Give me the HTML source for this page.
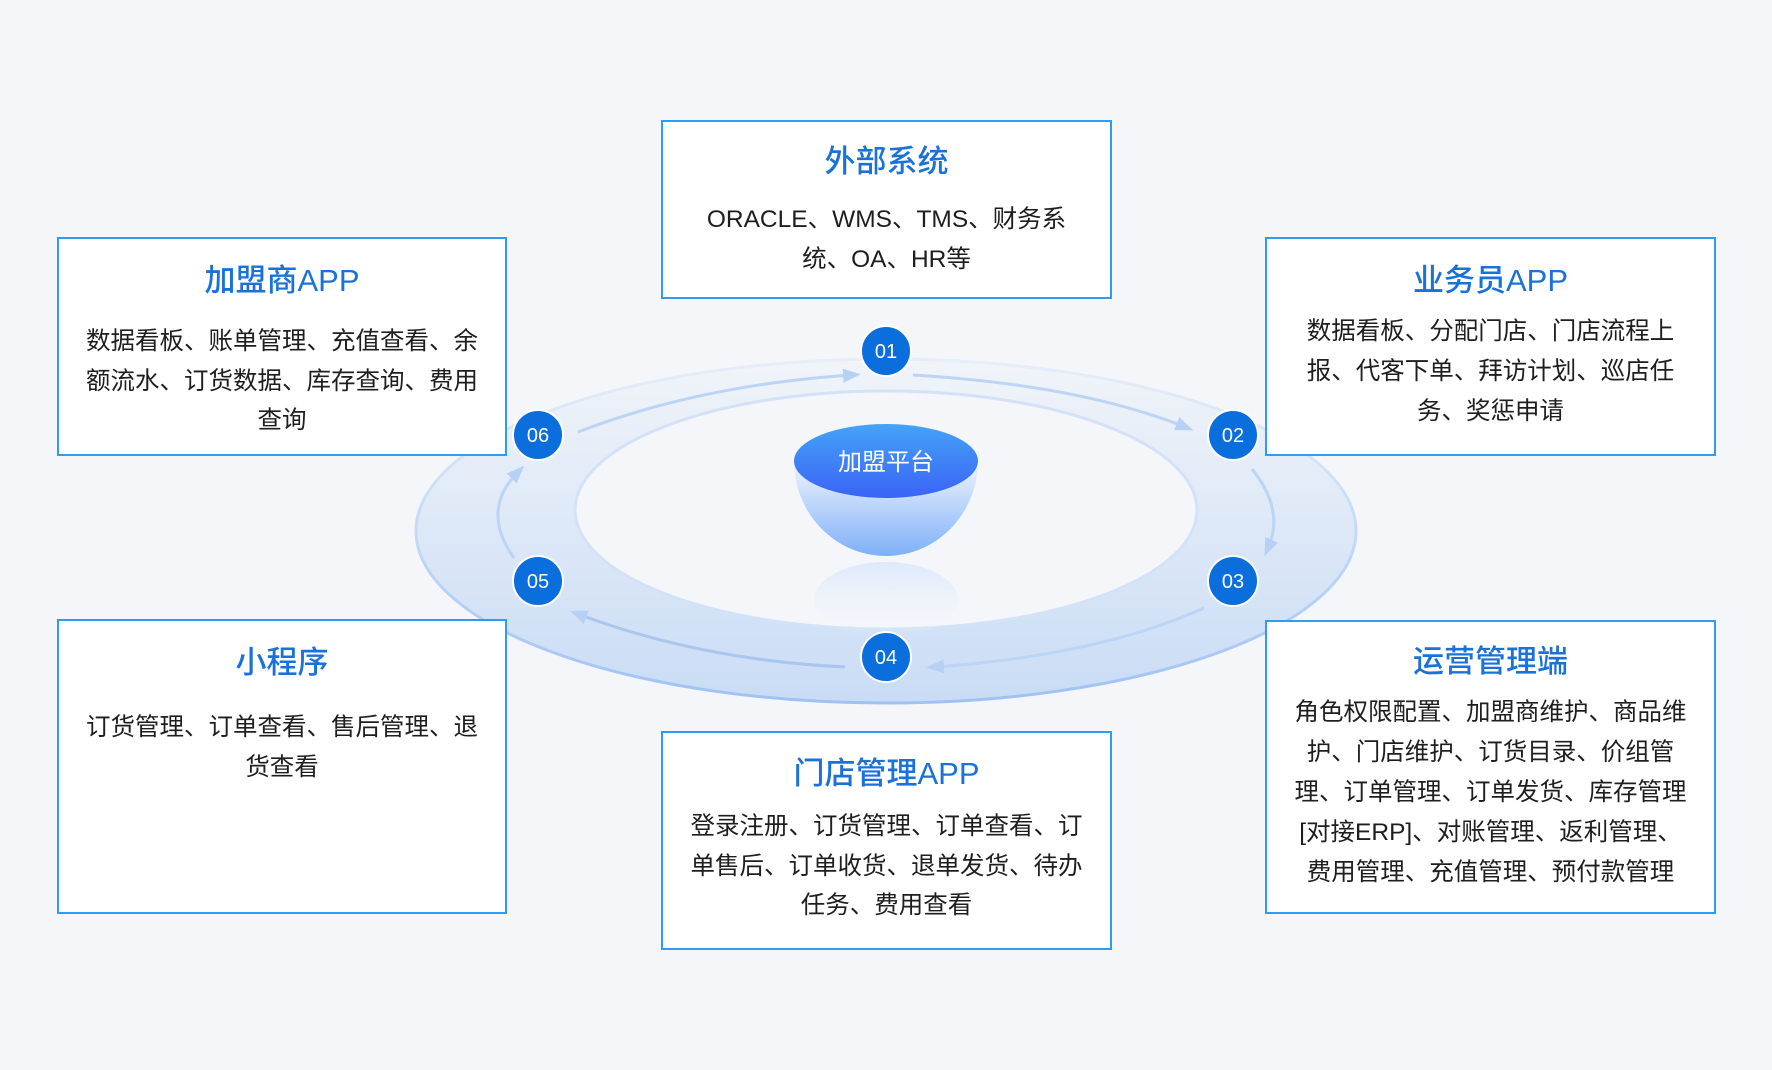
<!DOCTYPE html>
<html><head><meta charset="utf-8"><style>
*{margin:0;padding:0;box-sizing:border-box}
body{width:1772px;height:1070px;overflow:hidden;background:#f4f6fa;font-family:"Liberation Sans","Noto Sans CJK SC",sans-serif;position:relative}
.box{position:absolute;background:#fff;border:2px solid #2d9cf2}
.t{position:absolute;left:0;right:0;text-align:center;white-space:nowrap;line-height:1}
.h{font-size:31px;color:#1a72d9;font-weight:500}
.b{font-size:24.5px;color:#1e1e1e}
svg{position:absolute;left:0;top:0}
</style></head><body>
<svg width="1772" height="1070">
<defs>
<linearGradient id="ring" x1="0" y1="0" x2="0" y2="1"><stop offset="0" stop-color="#f1f4f9"/><stop offset="1" stop-color="#c9dcf5"/></linearGradient>
<linearGradient id="rs" x1="0" y1="0" x2="0" y2="1"><stop offset="0" stop-color="#e6eef9"/><stop offset="0.5" stop-color="#c5daf6"/><stop offset="1" stop-color="#9fc2f3"/></linearGradient>
<linearGradient id="top" x1="0" y1="0" x2="0" y2="1"><stop offset="0" stop-color="#45a3f8"/><stop offset="1" stop-color="#3a63f6"/></linearGradient>
<linearGradient id="bowl" x1="0" y1="0" x2="0" y2="1"><stop offset="0" stop-color="#f0f5fd"/><stop offset="1" stop-color="#7fb0f8"/></linearGradient>
<linearGradient id="refl" x1="0" y1="0" x2="0" y2="1"><stop offset="0" stop-color="#dde9fb"/><stop offset="1" stop-color="#f4f6fa" stop-opacity="0"/></linearGradient>
<marker id="arb" markerWidth="18" markerHeight="18" refX="9" refY="9" orient="auto" markerUnits="userSpaceOnUse"><path d="M0,2 L18,9 L0,16z" fill="#b7d1f5"/></marker>
</defs>
<ellipse cx="886" cy="531" rx="470" ry="172" fill="url(#ring)" stroke="url(#rs)" stroke-width="3"/>
<ellipse cx="886" cy="510" rx="311" ry="119" fill="#f4f6fa" stroke="#d3e2f8" stroke-width="3"/>
<ellipse cx="886" cy="600" rx="72" ry="38" fill="url(#refl)"/>
<path d="M794,461 A92,95 0 0 0 978,461 Z" fill="url(#bowl)"/>
<ellipse cx="886" cy="461" rx="92" ry="37" fill="url(#top)"/>
<text x="886" y="470" text-anchor="middle" font-size="24" fill="#fff" font-family="Liberation Sans,Noto Sans CJK SC,sans-serif">加盟平台</text>
<g fill="none" stroke="#bcd4f5" stroke-width="3" marker-end="url(#arb)">
<path d="M578,432 Q700,385 852,375"/>
<path d="M913,375 Q1080,385 1185,427"/>
<path d="M1252,469 Q1285,510 1268,548"/>
<path d="M1204,608 Q1100,655 935,667"/>
<path d="M845,667 Q700,660 578,614" stroke="#a9c6ee"/>
<path d="M514,558 Q480,510 518,472"/>
</g>
<g font-family="Liberation Sans,sans-serif" font-size="20" fill="#fff" text-anchor="middle">
<circle cx="886" cy="351" r="25" fill="#0a6edc" stroke="#fff" stroke-width="2"/><text x="886" y="358">01</text>
<circle cx="1233" cy="435" r="25" fill="#0a6edc" stroke="#fff" stroke-width="2"/><text x="1233" y="442">02</text>
<circle cx="1233" cy="581" r="25" fill="#0a6edc" stroke="#fff" stroke-width="2"/><text x="1233" y="588">03</text>
<circle cx="886" cy="657" r="25" fill="#0a6edc" stroke="#fff" stroke-width="2"/><text x="886" y="664">04</text>
<circle cx="538" cy="581" r="25" fill="#0a6edc" stroke="#fff" stroke-width="2"/><text x="538" y="588">05</text>
<circle cx="538" cy="435" r="25" fill="#0a6edc" stroke="#fff" stroke-width="2"/><text x="538" y="442">06</text>
</g>
</svg>

<div class="box" style="left:661px;top:120px;width:451px;height:179px">
<div class="t h" style="top:24px">外部系统</div>
<div class="t b" style="top:86px">ORACLE、WMS、TMS、财务系</div>
<div class="t b" style="top:126px">统、OA、HR等</div>
</div>

<div class="box" style="left:57px;top:237px;width:450px;height:219px">
<div class="t h" style="top:26px">加盟商APP</div>
<div class="t b" style="top:91px">数据看板、账单管理、充值查看、余</div>
<div class="t b" style="top:131px">额流水、订货数据、库存查询、费用</div>
<div class="t b" style="top:170px">查询</div>
</div>

<div class="box" style="left:1265px;top:237px;width:451px;height:219px">
<div class="t h" style="top:26px">业务员APP</div>
<div class="t b" style="top:81px">数据看板、分配门店、门店流程上</div>
<div class="t b" style="top:121px">报、代客下单、拜访计划、巡店任</div>
<div class="t b" style="top:161px">务、奖惩申请</div>
</div>

<div class="box" style="left:57px;top:619px;width:450px;height:295px">
<div class="t h" style="top:26px">小程序</div>
<div class="t b" style="top:95px">订货管理、订单查看、售后管理、退</div>
<div class="t b" style="top:135px">货查看</div>
</div>

<div class="box" style="left:1265px;top:620px;width:451px;height:294px">
<div class="t h" style="top:24px">运营管理端</div>
<div class="t b" style="top:79px">角色权限配置、加盟商维护、商品维</div>
<div class="t b" style="top:119px">护、门店维护、订货目录、价组管</div>
<div class="t b" style="top:159px">理、订单管理、订单发货、库存管理</div>
<div class="t b" style="top:199px">[对接ERP]、对账管理、返利管理、</div>
<div class="t b" style="top:239px">费用管理、充值管理、预付款管理</div>
</div>

<div class="box" style="left:661px;top:731px;width:451px;height:219px">
<div class="t h" style="top:25px">门店管理APP</div>
<div class="t b" style="top:82px">登录注册、订货管理、订单查看、订</div>
<div class="t b" style="top:122px">单售后、订单收货、退单发货、待办</div>
<div class="t b" style="top:161px">任务、费用查看</div>
</div>
</body></html>
